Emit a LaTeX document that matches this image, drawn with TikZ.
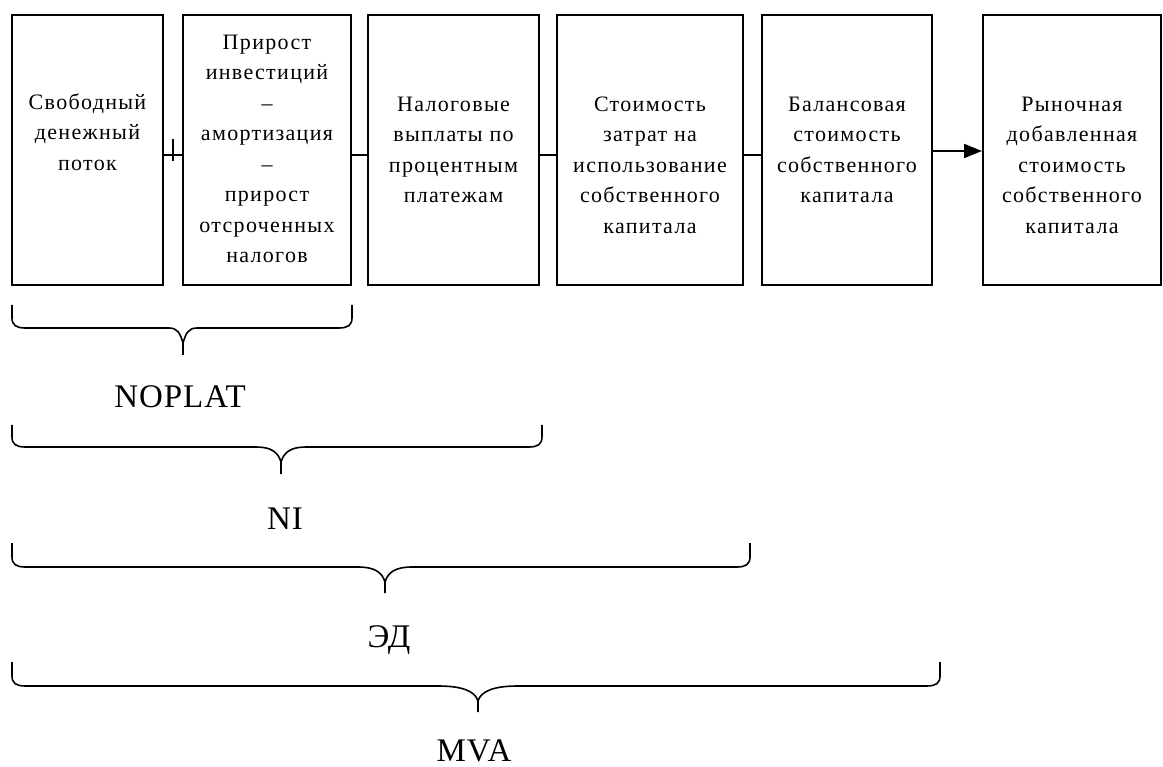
\documentclass[tikz,border=0pt]{standalone}
\usepackage{fontspec}
\setmainfont{Liberation Serif}
\newfontfamily\boxfnt{Liberation Serif}[LetterSpace=6.0]
\newfontfamily\labfnt{Liberation Serif}[LetterSpace=3.0]
\usetikzlibrary{arrows.meta}
% a, b, xc, yt, yl, yp, w
\newcommand\cbrace[7]{%
  \draw[bracest] (#1,#4) -- (#1,{#5-10}) .. controls (#1,{#5-3}) and ({#1+4},#5) .. ({#1+13},#5)
    -- ({#3-#7},#5) .. controls ({#3-0.4*#7},#5) and ({#3-3},{#5+5}) .. (#3,{#5+15}) -- (#3,#6);
  \draw[bracest] (#3,{#5+15}) .. controls ({#3+3},{#5+5}) and ({#3+0.4*#7},#5) .. ({#3+#7},#5)
    -- ({#2-13},#5) .. controls ({#2-4},#5) and (#2,{#5-3}) .. (#2,{#5-10}) -- (#2,#4);
}
\begin{document}
\begin{tikzpicture}[x=1pt,y=-1pt,
  boxst/.style={draw, line width=2pt, minimum height=270pt, inner sep=0pt},
  txt/.style={anchor=north, inner sep=0pt, align=center, font=\boxfnt\fontsize{22}{30.5}\selectfont},
  lab/.style={anchor=base, inner sep=0pt, font=\labfnt\fontsize{33}{36}\selectfont},
  conn/.style={line width=2pt},
  bracest/.style={line width=1.6pt, line join=round}]
\useasboundingbox (0,0) rectangle (1163,767);
\fill[white] (0,0) rectangle (1163,767);
% boxes
\node[boxst, minimum width=151pt] (b1) at (87.5,150) {};
\node[boxst, minimum width=168pt] (b2) at (267,150) {};
\node[boxst, minimum width=171pt] (b3) at (453.5,150) {};
\node[boxst, minimum width=186pt] (b4) at (650,150) {};
\node[boxst, minimum width=170pt] (b5) at (847,150) {};
\node[boxst, minimum width=178pt] (b6) at (1072,150) {};
% texts
\node[txt] (t1) at (87.5,93) {\rule{0pt}{16pt}Свободный\\денежный\\поток};
\node[txt] (t2) at (267,33) {\rule{0pt}{16pt}Прирост\\инвестиций\\–\\амортизация\\–\\прирост\\отсроченных\\налогов};
\node[txt] (t3) at (453.5,95) {\rule{0pt}{16pt}Налоговые\\выплаты по\\процентным\\платежам};
\node[txt] (t4) at (650,95) {\rule{0pt}{16pt}Стоимость\\затрат на\\использование\\собственного\\капитала};
\node[txt] (t5) at (847,95) {\rule{0pt}{16pt}Балансовая\\стоимость\\собственного\\капитала};
\node[txt] (t6) at (1072,95) {\rule{0pt}{16pt}Рыночная\\добавленная\\стоимость\\собственного\\капитала};
% connectors
\draw[conn] ([yshift=-5pt]b1.east) -- ([yshift=-5pt]b2.west);
\coordinate (plustop) at (172.5,139);
\draw[conn] (plustop) -- ++(0,22);
\draw[conn] ([yshift=-5pt]b2.east) -- ([yshift=-5pt]b3.west);
\draw[conn] ([yshift=-5pt]b3.east) -- ([yshift=-5pt]b4.west);
\draw[conn] ([yshift=-5pt]b4.east) -- ([yshift=-5pt]b5.west);
\draw[conn,-{Triangle[length=18pt,width=14pt]}] ([yshift=-1pt]b5.east) -- ([yshift=-1pt]b6.west);
% braces
\cbrace{12}{352}{183}{305}{328}{355}{14}
\cbrace{12}{542}{281}{425}{447}{474}{25}
\cbrace{12}{750}{385}{543}{567}{593}{27}
\cbrace{12}{940}{478}{662}{686}{712}{40}
% labels
\node[lab] (noplat) at (180,408) {NOPLAT};
\node[lab] (ni) at (285,529) {NI};
\node[lab] (ed) at (389,647) {ЭД};
\node[lab] (mva) at (474,761) {MVA};
\end{tikzpicture}
\end{document}
